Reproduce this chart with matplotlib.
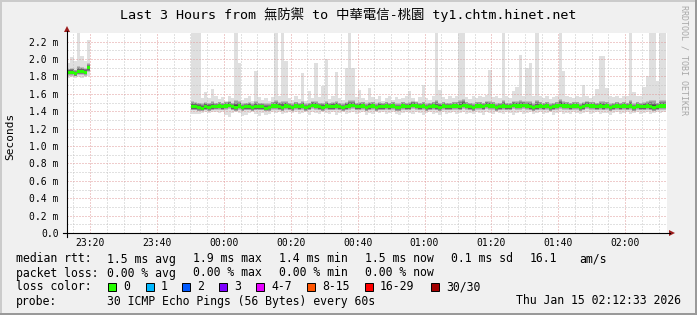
import numpy as np
import matplotlib.pyplot as plt
from matplotlib.lines import Line2D
from matplotlib.patches import Rectangle, Polygon

W, H = 697, 315
MONO = ['DejaVu Sans Mono', 'Noto Sans CJK TC']

title = 'Last 3 Hours from 無防禦 to 中華電信-桃園 ty1.chtm.hinet.net'

# minutes from the left edge of the graph (graph spans 179.4 min)
tick_times = ['23:20', '23:40', '00:00', '00:20', '00:40', '01:00', '01:20', '01:40', '02:00']
first_tick = 6.9

y_ticks = [0.0, 0.2, 0.4, 0.6, 0.8, 1.0, 1.2, 1.4, 1.6, 1.8, 2.0, 2.2]
y_labels = ['0.0'] + [f'{v:.1f} m' for v in y_ticks[1:]]

# --- segment 1 (ms) ---
seg1_start = 0
seg1_med = [1.85, 1.85, 1.83, 1.86, 1.86, 1.85, 1.90]
seg1_lo = [1.81, 1.81, 1.80, 1.82, 1.82, 1.81, 1.85]
seg1_hi = [1.89, 1.90, 1.88, 1.92, 1.91, 1.90, 1.95]
seg1_min = [1.78, 1.79, 1.78, 1.79, 1.78, 1.79, 1.80]
seg1_max = [1.96, 2.02, 1.98, 2.40, 2.03, 1.98, 2.22]

# --- segment 2 (ms) ---
seg2_start = 37
seg2_med = [1.45, 1.45, 1.44, 1.43, 1.45, 1.44, 1.45, 1.45, 1.46, 1.45,
            1.46, 1.47, 1.45, 1.44, 1.46, 1.44, 1.45, 1.45, 1.44, 1.45,
            1.45, 1.45, 1.43, 1.44, 1.46, 1.46, 1.45, 1.44, 1.46, 1.45,
            1.44, 1.46, 1.45, 1.46, 1.44, 1.45, 1.47, 1.46, 1.45, 1.44,
            1.46, 1.45, 1.45, 1.46, 1.45, 1.44, 1.45, 1.46, 1.47, 1.45,
            1.45, 1.46, 1.44, 1.45, 1.46, 1.44, 1.45, 1.45, 1.46, 1.45,
            1.46, 1.44, 1.44, 1.46, 1.45, 1.45, 1.47, 1.46, 1.45, 1.46,
            1.44, 1.45, 1.46, 1.45, 1.44, 1.46, 1.45, 1.45, 1.46, 1.46,
            1.45, 1.47, 1.46, 1.45, 1.44, 1.46, 1.46, 1.45, 1.47, 1.46,
            1.46, 1.44, 1.45, 1.46, 1.45, 1.45, 1.47, 1.46, 1.46, 1.47,
            1.46, 1.45, 1.44, 1.45, 1.46, 1.45, 1.46, 1.44, 1.45, 1.46,
            1.47, 1.46, 1.46, 1.45, 1.46, 1.46, 1.44, 1.45, 1.47, 1.46,
            1.46, 1.45, 1.46, 1.45, 1.46, 1.44, 1.45, 1.46, 1.45, 1.46,
            1.45, 1.46, 1.44, 1.46, 1.45, 1.45, 1.46, 1.45, 1.44, 1.45,
            1.46, 1.46]
seg2_lo = [1.41, 1.41, 1.40, 1.40, 1.41, 1.40, 1.41, 1.42, 1.42, 1.41,
           1.42, 1.43, 1.41, 1.40, 1.42, 1.40, 1.41, 1.41, 1.40, 1.41,
           1.41, 1.41, 1.40, 1.40, 1.42, 1.42, 1.41, 1.40, 1.42, 1.41,
           1.40, 1.42, 1.41, 1.42, 1.40, 1.41, 1.43, 1.42, 1.41, 1.40,
           1.42, 1.41, 1.41, 1.42, 1.41, 1.40, 1.41, 1.42, 1.43, 1.41,
           1.41, 1.42, 1.40, 1.41, 1.42, 1.40, 1.41, 1.41, 1.42, 1.41,
           1.42, 1.40, 1.40, 1.42, 1.41, 1.41, 1.43, 1.42, 1.41, 1.42,
           1.40, 1.41, 1.42, 1.41, 1.40, 1.42, 1.41, 1.41, 1.42, 1.42,
           1.41, 1.43, 1.42, 1.41, 1.40, 1.42, 1.42, 1.41, 1.43, 1.42,
           1.42, 1.40, 1.41, 1.42, 1.41, 1.41, 1.43, 1.42, 1.42, 1.43,
           1.42, 1.41, 1.40, 1.41, 1.42, 1.41, 1.42, 1.40, 1.41, 1.42,
           1.43, 1.42, 1.42, 1.41, 1.42, 1.42, 1.40, 1.41, 1.43, 1.42,
           1.42, 1.41, 1.42, 1.41, 1.42, 1.40, 1.41, 1.42, 1.41, 1.42,
           1.41, 1.42, 1.40, 1.42, 1.41, 1.41, 1.42, 1.41, 1.40, 1.41,
           1.42, 1.42]
seg2_hi = [1.52, 1.51, 1.50, 1.49, 1.51, 1.50, 1.52, 1.50, 1.51, 1.50,
           1.51, 1.52, 1.50, 1.53, 1.52, 1.49, 1.50, 1.51, 1.49, 1.52,
           1.50, 1.50, 1.49, 1.49, 1.51, 1.53, 1.51, 1.52, 1.52, 1.50,
           1.49, 1.51, 1.50, 1.52, 1.49, 1.50, 1.52, 1.52, 1.50, 1.50,
           1.52, 1.50, 1.51, 1.52, 1.50, 1.49, 1.51, 1.53, 1.53, 1.50,
           1.51, 1.51, 1.49, 1.51, 1.51, 1.49, 1.51, 1.50, 1.51, 1.50,
           1.51, 1.49, 1.49, 1.51, 1.50, 1.51, 1.52, 1.51, 1.50, 1.51,
           1.49, 1.50, 1.51, 1.53, 1.50, 1.51, 1.50, 1.50, 1.51, 1.51,
           1.53, 1.54, 1.51, 1.50, 1.49, 1.51, 1.51, 1.50, 1.52, 1.52,
           1.51, 1.49, 1.50, 1.53, 1.50, 1.50, 1.52, 1.52, 1.53, 1.52,
           1.52, 1.52, 1.49, 1.53, 1.51, 1.50, 1.51, 1.49, 1.50, 1.51,
           1.54, 1.52, 1.51, 1.50, 1.51, 1.51, 1.49, 1.51, 1.52, 1.51,
           1.51, 1.50, 1.52, 1.52, 1.51, 1.49, 1.50, 1.51, 1.50, 1.51,
           1.50, 1.53, 1.49, 1.51, 1.50, 1.51, 1.52, 1.53, 1.53, 1.50,
           1.53, 1.53]
seg2_min = [1.37, 1.37, 1.37, 1.38, 1.39, 1.38, 1.39, 1.39, 1.38, 1.39,
            1.36, 1.33, 1.38, 1.39, 1.38, 1.35, 1.36, 1.38, 1.39, 1.37,
            1.35, 1.38, 1.36, 1.37, 1.39, 1.38, 1.39, 1.37, 1.38, 1.39,
            1.38, 1.39, 1.37, 1.38, 1.39, 1.36, 1.39, 1.38, 1.37, 1.39,
            1.38, 1.37, 1.39, 1.36, 1.38, 1.39, 1.37, 1.38, 1.39, 1.37,
            1.38, 1.39, 1.36, 1.38, 1.37, 1.39, 1.38, 1.39, 1.37, 1.38,
            1.39, 1.37, 1.36, 1.38, 1.39, 1.38, 1.37, 1.39, 1.38, 1.36,
            1.38, 1.39, 1.37, 1.38, 1.36, 1.39, 1.37, 1.38, 1.39, 1.37,
            1.38, 1.39, 1.37, 1.38, 1.37, 1.39, 1.38, 1.36, 1.39, 1.38,
            1.37, 1.39, 1.38, 1.37, 1.39, 1.38, 1.36, 1.38, 1.39, 1.37,
            1.38, 1.39, 1.37, 1.38, 1.39, 1.37, 1.38, 1.39, 1.36, 1.38,
            1.39, 1.37, 1.38, 1.37, 1.39, 1.38, 1.37, 1.38, 1.39, 1.37,
            1.38, 1.39, 1.37, 1.38, 1.38, 1.36, 1.38, 1.39, 1.37, 1.38,
            1.39, 1.37, 1.38, 1.39, 1.37, 1.38, 1.39, 1.37, 1.38, 1.39,
            1.38, 1.39]
seg2_max = [2.40, 2.40, 2.40, 1.55, 1.62, 1.55, 1.66, 1.58, 1.54, 1.56,
            1.52, 1.57, 1.55, 2.40, 1.95, 1.53, 1.55, 1.57, 1.52, 1.86,
            1.56, 1.53, 1.55, 1.52, 1.56, 2.40, 1.58, 2.40, 1.98, 1.55,
            1.53, 1.57, 1.54, 1.84, 1.52, 1.63, 1.55, 1.96, 1.56, 1.69,
            2.00, 1.54, 1.58, 1.85, 1.55, 1.53, 1.90, 2.40, 1.90, 1.56,
            1.64, 1.55, 1.53, 1.67, 1.56, 1.54, 1.58, 1.52, 1.55, 1.57,
            1.53, 1.56, 1.54, 1.55, 1.57, 1.63, 1.55, 1.52, 1.56, 1.70,
            1.55, 1.53, 1.57, 2.40, 1.65, 1.56, 1.54, 1.57, 1.55, 1.58,
            2.40, 2.40, 1.56, 1.54, 1.57, 1.55, 1.58, 1.56, 1.59, 1.88,
            1.56, 1.58, 1.55, 2.40, 1.57, 1.55, 1.63, 1.68, 2.05, 1.58,
            1.90, 1.96, 1.57, 2.40, 1.58, 1.55, 1.57, 1.54, 1.56, 1.58,
            2.40, 1.86, 1.58, 1.56, 1.55, 1.57, 1.56, 1.70, 1.57, 1.55,
            1.58, 1.66, 2.03, 2.03, 1.67, 1.58, 1.56, 1.57, 1.55, 1.58,
            1.57, 2.40, 1.62, 1.57, 1.58, 1.68, 1.80, 2.40, 2.40, 1.75,
            2.40, 2.40]

loss_labels = ['0', '1', '2', '3', '4-7', '8-15', '16-29', '30/30']
loss_colors = ['#26ff00', '#00b8ff', '#0059ff', '#7e00ff', '#e600ff', '#ff5500', '#ff0000', '#a10000']
loss_box_x = [108, 146, 182, 219, 256, 307, 365, 431]

fig = plt.figure(figsize=(W / 100, H / 100), dpi=100, facecolor='#f0f0f0')


def fx(x):
    return x / W


def fy(y):
    return 1 - y / H


ax = fig.add_axes([fx(67), fy(233), 600 / W, 200 / H])
ax.set_facecolor('white')
ax.set_xlim(0, 179.4)
ax.set_ylim(0, 2.30)
for s in ax.spines.values():
    s.set_visible(False)


def draw_segment(t0, med, lo, hi, mn, mx):
    med, lo, hi, mn, mx = map(np.asarray, (med, lo, hi, mn, mx))
    t = t0 + np.arange(len(med) + 1)
    ext = lambda a: np.append(a, a[-1])
    ax.fill_between(t, ext(mn), ext(mx), step='post', color='#dfdfdf', lw=0, zorder=1)
    shades = ['#bebebe', '#a0a0a0', '#828282', '#666666', '#4c4c4c']
    for k, c in enumerate(shades):
        f = k / len(shades) * 0.85
        ax.fill_between(t, ext(lo + (med - lo) * f), ext(hi - (hi - med) * f),
                        step='post', color=c, lw=0, zorder=1.2 + k * 0.01)
    half = 0.018
    ax.fill_between(t, ext(med - half), ext(med + half), step='post',
                    color=loss_colors[0], lw=0, zorder=3)


draw_segment(seg1_start, seg1_med, seg1_lo, seg1_hi, seg1_min, seg1_max)
draw_segment(seg2_start, seg2_med, seg2_lo, seg2_hi, seg2_min, seg2_max)

major_x = [first_tick + 20 * i for i in range(len(tick_times))]
minor_x = [v for v in np.arange(first_tick - 5, 179.4, 5) if v > 0]
ax.set_xticks(major_x, labels=tick_times)
ax.set_xticks(minor_x, minor=True)
ax.set_yticks(y_ticks, labels=y_labels)
ax.set_yticks(np.arange(0.1, 2.3, 0.2), minor=True)
ax.set_axisbelow(False)
ax.grid(True, which='minor', color='#c4c4c4', lw=0.72, ls=(0, (1, 2)))
ax.grid(True, which='major', color='#e09a9a', lw=0.72, ls=(0, (1, 2)))
ax.tick_params(which='both', length=0)
ax.tick_params(axis='x', pad=3.5, labelsize=7, labelcolor='#000000')
ax.tick_params(axis='y', pad=6, labelsize=7, labelcolor='#000000')
for lab in ax.get_xticklabels() + ax.get_yticklabels():
    lab.set_family(MONO)

# axes with arrows
ax_col = '#000000'
arrow_col = '#9b1c1c'
fig.add_artist(Line2D([fx(63), fx(670)], [fy(233), fy(233)], color=ax_col, lw=0.8))
fig.add_artist(Line2D([fx(67), fx(67)], [fy(237), fy(31)], color=ax_col, lw=0.8))
fig.add_artist(Polygon([[fx(669), fy(230)], [fx(675), fy(233)], [fx(669), fy(236)]],
                       closed=True, color=arrow_col, lw=0))
fig.add_artist(Polygon([[fx(64), fy(32)], [fx(67), fy(26)], [fx(70), fy(32)]],
                       closed=True, color=arrow_col, lw=0))

# frame shading
fig.add_artist(Rectangle((0, fy(2)), 1, 2 / H, color='#cbcbcb', lw=0))
fig.add_artist(Rectangle((0, 0), 2 / W, 1, color='#cbcbcb', lw=0))
fig.add_artist(Rectangle((0, 0), 1, 2 / H, color='#999999', lw=0))
fig.add_artist(Rectangle((fx(695), 0), 2 / W, 1, color='#999999', lw=0))

fig.text(fx(348), fy(15), title, family=MONO, fontsize=9.6, ha='center', va='center')
fig.text(fx(10), fy(136), 'Seconds', family=MONO, fontsize=8, rotation=90,
         ha='center', va='center')
fig.text(fx(684), fy(60), 'RRDTOOL / TOBI OETIKER', family=MONO, fontsize=6,
         rotation=-90, ha='center', va='center', color='#a8a8a8')

fs = 8.3
rows = [259, 273, 287, 301]
fig.text(fx(16), fy(rows[0]), 'median rtt:', family=MONO, fontsize=fs, va='center')
for x, s in zip([107, 193, 279, 365, 451, 530, 579],
                ['1.5 ms avg', '1.9 ms max', '1.4 ms min', '1.5 ms now', '0.1 ms sd', '16.1', 'am/s']):
    fig.text(fx(x), fy(rows[0]), s, family=MONO, fontsize=fs, va='center')
fig.text(fx(16), fy(rows[1]), 'packet loss:', family=MONO, fontsize=fs, va='center')
for x, s in zip([107, 193, 279, 365],
                ['0.00 % avg', '0.00 % max', '0.00 % min', '0.00 % now']):
    fig.text(fx(x), fy(rows[1]), s, family=MONO, fontsize=fs, va='center')
fig.text(fx(16), fy(rows[2]), 'loss color:', family=MONO, fontsize=fs, va='center')
for bx, lab, col in zip(loss_box_x, loss_labels, loss_colors):
    fig.add_artist(Rectangle((fx(bx), fy(rows[2] + 4)), 8 / W, 8 / H,
                             facecolor=col, edgecolor='black', lw=0.7))
    fig.text(fx(bx + 15), fy(rows[2]), lab, family=MONO, fontsize=fs, va='center')
fig.text(fx(16), fy(rows[3]), 'probe:', family=MONO, fontsize=fs, va='center')
fig.text(fx(107), fy(rows[3]), '30 ICMP Echo Pings (56 Bytes) every 60s',
         family=MONO, fontsize=fs, va='center')
fig.text(fx(681), fy(rows[3]), 'Thu Jan 15 02:12:33 2026', family=MONO, fontsize=fs,
         va='center', ha='right')

fig.savefig('out.png', dpi=100, facecolor=fig.get_facecolor())
